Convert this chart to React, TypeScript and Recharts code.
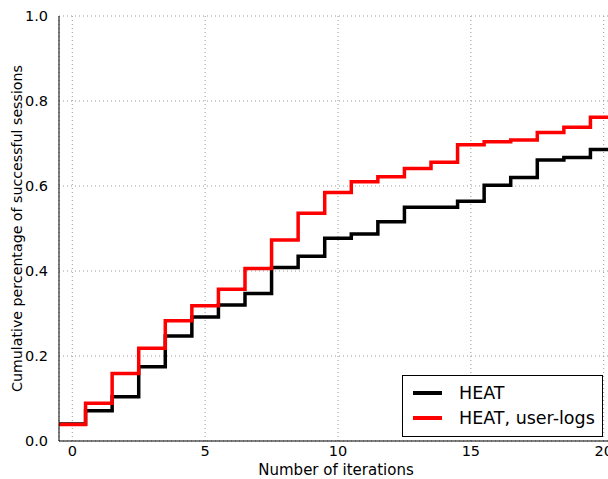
import { CartesianGrid, Legend, Line, LineChart, XAxis, YAxis } from "recharts";

// iterations 0..20, cumulative share of successful sessions
const iterations = [0, 1, 2, 3, 4, 5, 6, 7, 8, 9, 10, 11, 12, 13, 14, 15, 16, 17, 18, 19, 20];
const heat = [
  0.04, 0.071, 0.104, 0.175, 0.247, 0.292, 0.32, 0.347, 0.408, 0.435, 0.477,
  0.487, 0.516, 0.55, 0.55, 0.564, 0.602, 0.62, 0.661, 0.667, 0.686,
];
const heatLogs = [
  0.039, 0.089, 0.159, 0.218, 0.283, 0.318, 0.357, 0.406, 0.473, 0.536, 0.585,
  0.61, 0.622, 0.641, 0.656, 0.697, 0.704, 0.708, 0.726, 0.738, 0.762,
];
const xTicks = [0, 5, 10, 15, 20];
const yTicks = [0, 0.2, 0.4, 0.6, 0.8, 1.0];

// each value covers its iteration +-0.5, so rows sit on bin edges (step after)
const rows = iterations.map((it, i) => ({ x: it - 0.5, heat: heat[i], logs: heatLogs[i] }));
rows.push({ x: 20.5, heat: heat[heat.length - 1], logs: heatLogs[heatLogs.length - 1] });

const font = "'DejaVu Sans', sans-serif";

const LegendBox = () => (
  <div
    style={{
      width: 199,
      height: 60,
      border: "1px solid #000",
      background: "#fff",
      fontFamily: font,
      fontSize: 17.5,
      color: "#000",
      boxSizing: "content-box",
    }}
  >
    {[
      { name: "HEAT", color: "#000000" },
      { name: "HEAT, user-logs", color: "#ff0000" },
    ].map((e, i) => (
      <div
        key={e.name}
        style={{ display: "flex", alignItems: "center", height: 25, marginTop: i === 0 ? 4 : 0 }}
      >
        <div style={{ width: 29, height: 4, background: e.color, marginLeft: 10, marginRight: 17 }} />
        <span>{e.name}</span>
      </div>
    ))}
  </div>
);

const App = () => {
  return (
    <div style={{ position: "fixed", left: 0, top: 0, width: 608, height: 479, overflow: "hidden", background: "#fff" }}>
      <LineChart
        width={640}
        height={479}
        data={rows}
        margin={{ top: 16, right: 23, left: 0, bottom: 0 }}
      >
        <CartesianGrid stroke="#999" strokeDasharray="1 3" />
        <XAxis
          type="number"
          dataKey="x"
          domain={[-0.5, 20.5]}
          ticks={xTicks}
          allowDataOverflow
          height={38}
          tickSize={0}
          tickMargin={5}
          axisLine={{ stroke: "#000" }}
          tick={{ fill: "#000", fontSize: 14.5, fontFamily: font }}
          label={{
            content: () => (
              <text x={336} y={475} textAnchor="middle" fill="#000" fontSize={15} fontFamily={font}>
                Number of iterations
              </text>
            ),
          }}
        />
        <XAxis
          xAxisId="top"
          orientation="top"
          type="number"
          dataKey="x"
          domain={[-0.5, 20.5]}
          height={0}
          tick={false}
          tickLine={false}
          axisLine={{ stroke: "#000" }}
        />
        <YAxis
          type="number"
          domain={[0, 1]}
          ticks={yTicks}
          width={59}
          tickSize={0}
          tickMargin={11}
          axisLine={{ stroke: "#000" }}
          tickFormatter={(v: number) => v.toFixed(1)}
          tick={{ fill: "#000", fontSize: 14.5, fontFamily: font }}
          label={{
            content: () => (
              <text
                x={17}
                y={228.5}
                transform="rotate(-90 17 228.5)"
                textAnchor="middle"
                dominantBaseline="central"
                fill="#000"
                fontSize={14.2}
                fontFamily={font}
              >
                Cumulative percentage of successful sessions
              </text>
            ),
          }}
        />
        <Legend
          layout="vertical"
          align="center"
          verticalAlign="middle"
          content={() => <LegendBox />}
          wrapperStyle={{ position: "absolute", left: 402, top: 375, width: 201 }}
        />
        <Line
          type="stepAfter"
          dataKey="heat"
          name="HEAT"
          stroke="#000000"
          strokeWidth={3.5}
          dot={false}
          isAnimationActive={false}
        />
        <Line
          type="stepAfter"
          dataKey="logs"
          name="HEAT, user-logs"
          stroke="#ff0000"
          strokeWidth={3.5}
          dot={false}
          isAnimationActive={false}
        />
      </LineChart>
    </div>
  );
};

export default App;
